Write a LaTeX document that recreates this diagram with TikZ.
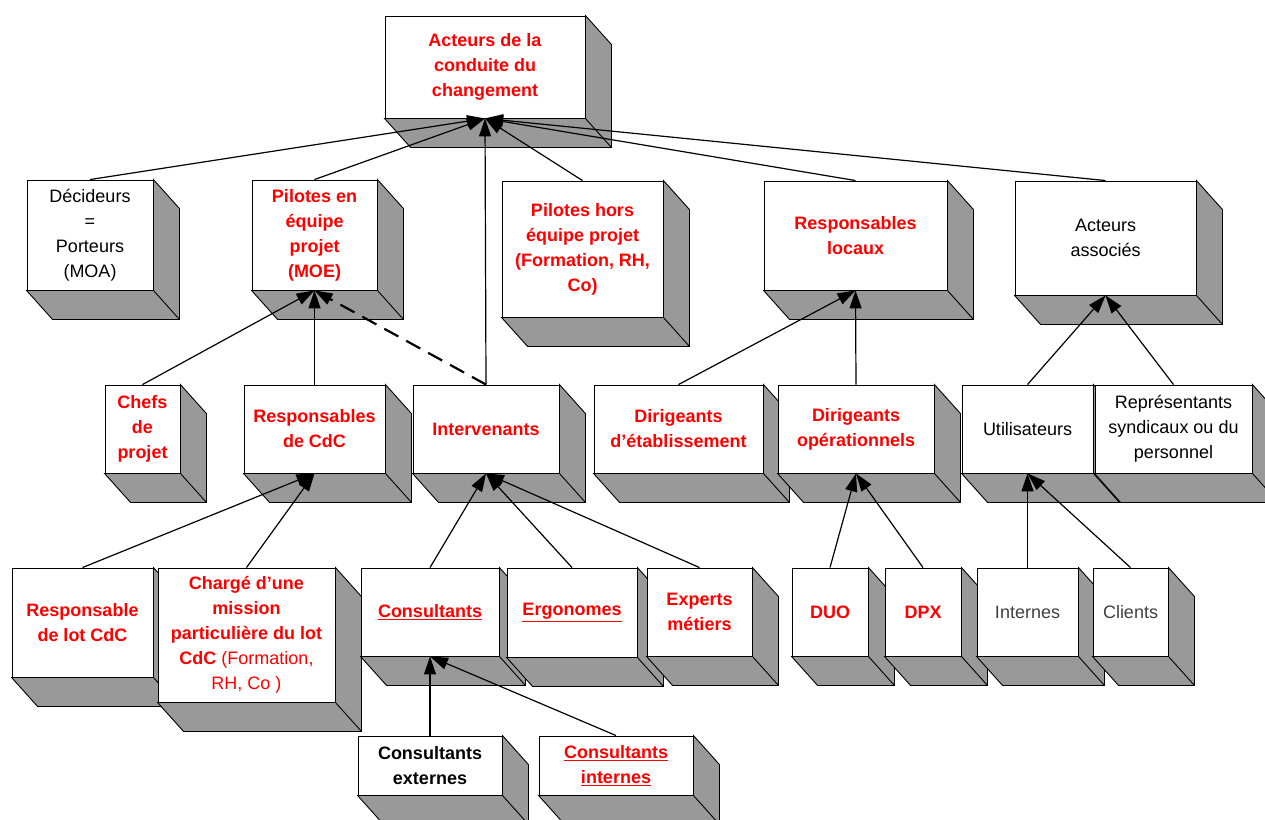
\documentclass[tikz,border=0pt]{standalone}
\usepackage{fontspec}
\setmainfont{Liberation Sans}
\usetikzlibrary{arrows.meta}
\definecolor{sidegray}{HTML}{999999}
\definecolor{txtgray}{HTML}{404040}
\newcommand\extrude[1]{%
  \filldraw[sideface] (#1.north east) -- ([shift={(26,29)}]#1.north east) -- ([shift={(26,29)}]#1.south east) -- ([shift={(26,29)}]#1.south west) -- (#1.south west) -- (#1.south east) -- cycle;
  \draw[sideface] (#1.south east) -- ([shift={(26,29)}]#1.south east);}
\begin{document}
\begin{tikzpicture}[x=1pt,y=-1pt,
  sideface/.style={fill=sidegray,draw=black,line width=0.9pt,line join=miter},
  box/.style={draw=black,fill=white,line width=0.9pt,inner sep=0pt,align=center,
    font=\fontsize{18}{25}\selectfont},
  rb/.style={text=red,font=\fontsize{18}{25}\selectfont\bfseries},
  bk/.style={text=black},
  gr/.style={text=txtgray},
  conn/.style={draw=black,line width=1.2pt,-{Triangle[length=18pt,width=12pt]}},
  dconn/.style={conn,line width=2.2pt,dash pattern=on 16pt off 9pt}]
\useasboundingbox (0,0) rectangle (1265,819);
\fill[white] (0,0) rectangle (1265,819);
% level 1
\node[box,rb,minimum width=200,minimum height=102] (top) at (485,67) {Acteurs de la\\conduite du\\changement}; \extrude{top}
% level 2
\node[box,bk,minimum width=126,minimum height=110] (dec) at (90,235) {Décideurs\\=\\Porteurs\\(MOA)}; \extrude{dec}
\node[box,rb,minimum width=125,minimum height=110] (pil) at (314.5,235) {Pilotes en\\équipe\\projet\\(MOE)}; \extrude{pil}
\node[box,rb,minimum width=161,minimum height=136] (pho) at (582.5,249) {Pilotes hors\\équipe projet\\(Formation, RH,\\Co)}; \extrude{pho}
\node[box,rb,minimum width=183,minimum height=109] (rlo) at (855.5,235.5) {Responsables\\locaux}; \extrude{rlo}
\node[box,bk,minimum width=181,minimum height=114] (aas) at (1105.5,238) {Acteurs\\associés}; \extrude{aas}
% level 3
\node[box,rb,minimum width=75,minimum height=88] (chp) at (142.5,429) {Chefs\\de\\projet}; \extrude{chp}
\node[box,rb,minimum width=141,minimum height=88] (rcd) at (314.5,429) {Responsables\\de CdC}; \extrude{rcd}
\node[box,rb,minimum width=146,minimum height=88] (int) at (486,429) {Intervenants}; \extrude{int}
\node[box,rb,minimum width=169,minimum height=88] (det) at (678.5,429) {Dirigeants\\d’établissement}; \extrude{det}
\node[box,rb,minimum width=156,minimum height=88] (dop) at (856,429) {Dirigeants\\opérationnels}; \extrude{dop}
\node[box,bk,minimum width=131,minimum height=88] (uti) at (1027.5,429) {Utilisateurs}; \extrude{uti}
\node[box,bk,minimum width=157,minimum height=88] (rep) at (1173.5,429) {Représentants\\syndicaux ou du\\personnel}; \extrude{rep}
% level 4
\node[box,rb,minimum width=141,minimum height=109] (rlc) at (82.5,622.5) {Responsable\\de lot CdC}; \extrude{rlc}
\node[box,rb,minimum width=177,minimum height=134] (cha) at (246.5,635) {Chargé d’une\\mission\\particulière du lot\\CdC {\mdseries (Formation,}\\{\mdseries RH, Co )}}; \extrude{cha}
\node[box,rb,minimum width=138,minimum height=88] (con) at (430,612) {\underline{Consultants}}; \extrude{con}
\node[box,rb,minimum width=130,minimum height=89] (erg) at (572,612.5) {\underline{Ergonomes}}; \extrude{erg}
\node[box,rb,minimum width=105,minimum height=88] (exp) at (699.5,612) {Experts\\métiers}; \extrude{exp}
\node[box,rb,minimum width=76,minimum height=88] (duo) at (830,612) {DUO}; \extrude{duo}
\node[box,rb,minimum width=76,minimum height=88] (dpx) at (923,612) {DPX}; \extrude{dpx}
\node[box,gr,minimum width=101,minimum height=88] (inn) at (1027.5,612) {Internes}; \extrude{inn}
\node[box,gr,minimum width=75,minimum height=88] (cli) at (1130.5,612) {Clients}; \extrude{cli}
% level 5
\node[box,rb,text=black,minimum width=144,minimum height=59] (cex) at (430,765.5) {Consultants\\externes}; \extrude{cex}
\node[box,rb,minimum width=154,minimum height=59] (cin) at (616,765.5) {\underline{Consultants}\\\underline{internes}}; \extrude{cin}
% connectors
\foreach \c in {dec,pil,int,pho,rlo,aas} \draw[conn] (\c.north) -- (top.south);
\foreach \c in {chp,rcd} \draw[conn] (\c.north) -- (pil.south);
\draw[dconn] (int.north) -- (pil.south);
\foreach \c in {rlc,cha} \draw[conn] (\c.north) -- (rcd.south);
\foreach \c in {con,erg,exp} \draw[conn] (\c.north) -- (int.south);
\foreach \c in {det,dop} \draw[conn] (\c.north) -- (rlo.south);
\foreach \c in {duo,dpx} \draw[conn] (\c.north) -- (dop.south);
\foreach \c in {uti,rep} \draw[conn] (\c.north) -- (aas.south);
\foreach \c in {inn,cli} \draw[conn] (\c.north) -- (uti.south);
\foreach \c in {cex,cin} \draw[conn] (\c.north) -- (con.south);
\end{tikzpicture}
\end{document}
